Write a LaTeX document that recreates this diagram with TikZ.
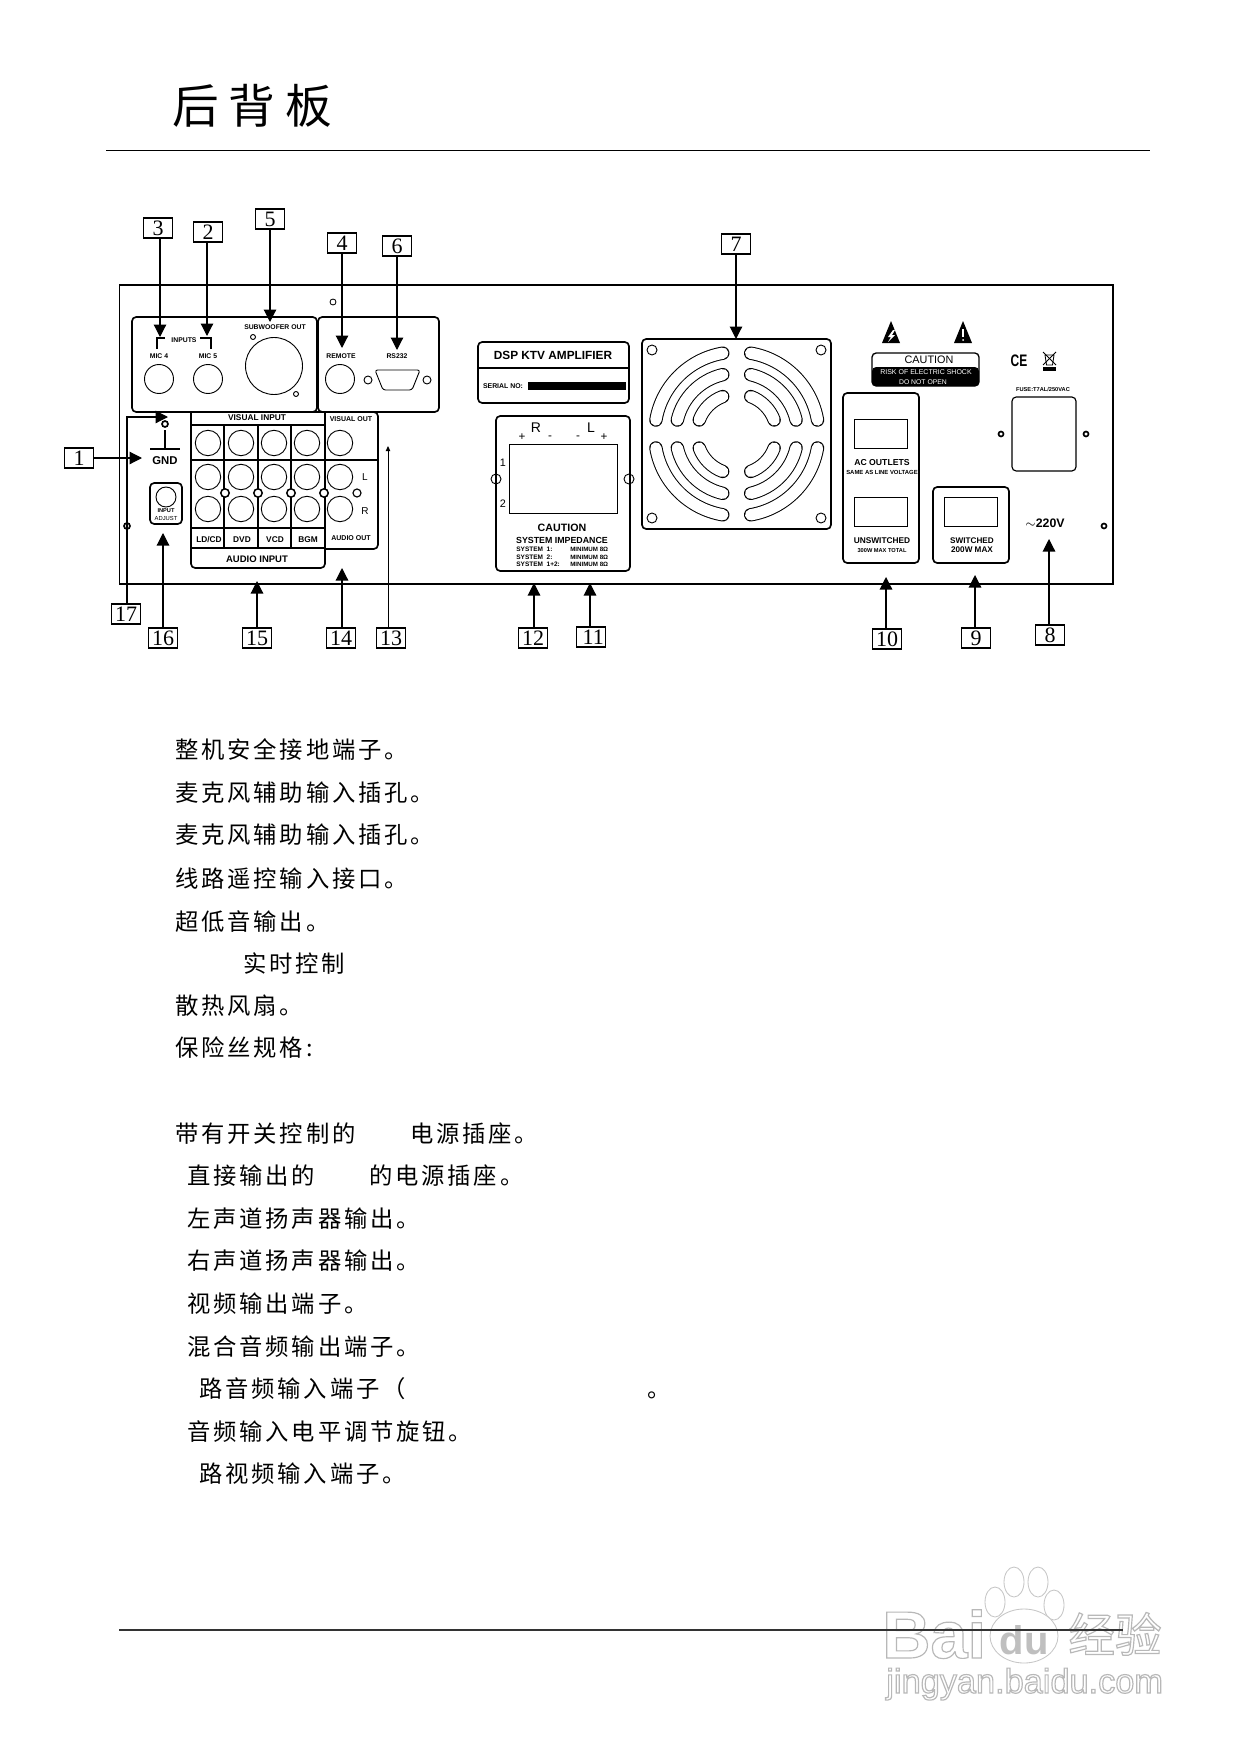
\documentclass[tikz,border=0pt]{standalone}
\usepackage{fontspec}
\usetikzlibrary{arrows.meta}
\setmainfont{Liberation Sans}
\newfontfamily\srf{Liberation Serif}
\newfontfamily\cjk{Noto Sans CJK SC}
\newfontfamily\cjkb[LetterSpace=12]{Noto Sans CJK SC}
\newcommand\fpx[1]{\fontsize{#1}{#1}\selectfont}
% bold centred text, regular centred text, bold west text
\newcommand\TB[4]{\node[inner sep=0pt,font={\fpx{#3}\bfseries}] (#1) at (#2) {#4};}
\newcommand\TR[4]{\node[inner sep=0pt,font={\fpx{#3}}] (#1) at (#2) {#4};}
\newcommand\TW[4]{\node[inner sep=0pt,anchor=west,font={\fpx{#3}\bfseries}] (#1) at (#2) {#4};}
\newcommand\BODY[3]{\node[inner sep=0pt,anchor=base west,font={\fpx{14}\cjkb}] (#1) at (#2) {#3};}
\newcommand\LAB[2]{\node[labbox] (n#1) at (#2) {#1};}
% outlined (stroked) text for the watermark
\newcommand\OUTL[1]{\special{pdf:code q 0.7 w 0.72 G 1 Tr}#1\special{pdf:code Q}}
\tikzset{
  labbox/.style={draw,line width=.7pt,minimum width=17.6pt,minimum height=12pt,inner sep=0pt,font={\fpx{13.2}\srf}},
  arr/.style={line width=.7pt,-{Triangle[width=7.5pt,length=7.5pt]}},
  pan/.style={draw,line width=1pt,rounded corners=2.5pt},
  thn/.style={draw,line width=.6pt},
  jack/.style={draw,line width=.55pt},
  screw/.style={draw,line width=1pt},
}
\begin{document}
\begin{tikzpicture}[x=0.6pt,y=-0.6pt]
\useasboundingbox (0,0) rectangle (1240,1752);
\fill[white] (0,0) rectangle (1240,1752);

% ---------- header
\node[inner sep=0pt,anchor=base west,font={\fpx{28}\cjk}] (title) at (172,124) {后\hspace{6pt}背\hspace{6pt}板};
\draw[line width=.75pt] (106,150.5) -- (1150,150.5);

% ---------- outer panel
\draw[line width=.8pt] (119.5,285) rectangle (1113,584);
\draw[line width=1.1pt] (119.5,285) -- (119.5,584);

% ---------- mic panel
\draw[pan] (132,317) rectangle (317,412);
\draw[pan] (318,317) rectangle (439,412);
\draw[jack] (159,379) circle[radius=14.5];
\draw[jack] (208,379) circle[radius=14.5];
\draw[jack] (274,366) circle[radius=28.5];
\draw[jack] (253,337) circle[radius=2.5];
\draw[jack] (296,394) circle[radius=2.5];
\draw[jack] (340,379) circle[radius=14.5];
\draw[jack,rounded corners=1.5pt] (375,370) -- (420,370) -- (412,390) -- (383,390) -- cycle;
\draw[jack] (368,380) circle[radius=4];
\draw[jack] (427,380) circle[radius=4];
\draw[screw,line width=.5pt] (333,302) circle[radius=3];
\draw[line width=.7pt] (157,349) -- (157,338) -- (165,338);
\draw[line width=.7pt] (200,338) -- (211,338) -- (211,349);
\TB{tinputs}{184,340}{4.1}{INPUTS}
\TB{tmic4}{159,356}{4.1}{MIC 4}
\TB{tmic5}{208,356}{4.1}{MIC 5}
\TB{tsub}{275,327}{4.1}{SUBWOOFER OUT}
\TB{trem}{341,356}{4.1}{REMOTE}
\TB{trs}{397,356}{4.1}{RS232}

% ---------- audio / visual panel
\draw[pan] (191,412) -- (191,568) -- (325,568) -- (325,412);
\draw[pan] (325,412) -- (378,412) -- (378,549) -- (325,549);
\draw[line width=.9pt] (191,412) -- (378,412);
\draw[line width=.9pt] (191,425) -- (325,425);
\draw[line width=.9pt] (191,460) -- (378,460);
\draw[line width=.9pt] (191,528) -- (325,528);
\draw[line width=.9pt] (191,548) -- (325,548);
\draw[line width=.9pt] (224,425) -- (224,548);
\draw[line width=.9pt] (258,425) -- (258,548);
\draw[line width=.9pt] (291,425) -- (291,548);
\draw[line width=.9pt] (325,412) -- (325,549);
\foreach \xx in {208,241,274,307,340}{
  \draw[jack] (\xx,443) circle[radius=12.7];
  \draw[jack] (\xx,477) circle[radius=12.7];
  \draw[jack] (\xx,509) circle[radius=12.7];
}
\foreach \xx in {225,258,291,324}{
  \draw[line width=.9pt,fill=white] (\xx,493) circle[radius=4.2];
}
\draw[line width=.7pt] (357,493) circle[radius=4];
\TB{tvi}{257,418}{5}{VISUAL INPUT}
\TB{tvo}{351,419}{4.2}{VISUAL OUT}
\TB{tao}{351,538}{4.2}{AUDIO OUT}
\TB{tld}{209,540}{5}{LD/CD}
\TB{tdvd}{242,540}{5}{DVD}
\TB{tvcd}{275,540}{5}{VCD}
\TB{tbgm}{308,540}{5}{BGM}
\TB{tai}{257,559}{5.7}{AUDIO INPUT}
\TR{tl}{365,477}{6}{L}
\TR{tr}{365,511}{6}{R}

% ---------- GND + input adjust
\draw[screw] (165,424) circle[radius=3];
\draw[line width=1.3pt] (165,430) -- (165,449);
\draw[line width=1.3pt] (150,449) -- (180,449);
\TB{tgnd}{165,461}{6.8}{GND}
\draw[pan] (150,483) rectangle (182,524);
\draw[jack] (166,497) circle[radius=10];
\TB{tinp}{166,511}{3.4}{INPUT}
\TR{tadj}{166,518}{3.5}{ADJUST}
\draw[screw,fill=white] (127,526) circle[radius=3];

% ---------- DSP label
\draw[pan] (478,342) rectangle (629,403);
\draw[line width=.9pt] (478,368) -- (629,368);
\TB{tdsp}{553,355}{7.1}{DSP KTV AMPLIFIER}
\TB{tser}{503,386}{4.15}{SERIAL NO:}
\fill (528,382) rectangle (626,390);

% ---------- speaker terminal
\draw[pan] (496,416) rectangle (630,571);
\draw[thn] (509,444) rectangle (617,513);
\draw[jack] (496,479) circle[radius=5];
\draw[jack] (629,479) circle[radius=5];
\TR{tspr}{536,428}{8.4}{R}
\TR{tspl}{591,428}{8.4}{L}
\TR{tp1}{522,437}{7}{+}
\TR{tm1}{550,438}{7}{-}
\TR{tm2}{578,438}{7}{-}
\TR{tp2}{604,437}{7}{+}
\TR{tone}{503,463}{6.5}{1}
\TR{ttwo}{503,504}{6.5}{2}
\TB{tcau}{562,528}{6.4}{CAUTION}
\TB{timp}{562,540}{5.3}{SYSTEM IMPEDANCE}
\TW{ts1}{516,549}{3.9}{SYSTEM\ \ 1:}
\TW{ts2}{516,557}{3.9}{SYSTEM\ \ 2:}
\TW{ts3}{516,564}{3.9}{SYSTEM\ \ 1+2:}
\TW{tm1a}{570,549}{3.7}{MINIMUM 8Ω}
\TW{tm2a}{570,557}{3.7}{MINIMUM 8Ω}
\TW{tm3a}{570,564}{3.7}{MINIMUM 8Ω}

% ---------- fan
\draw[pan] (642,339) rectangle (831,529);
\foreach \xx/\yy in {652/350,821/350,652/518,821/518}{
  \draw[jack] (\xx,\yy) circle[radius=5];
}
\foreach \sx/\sy in {1/1,-1/1,1/-1,-1/-1}{
  \begin{scope}[shift={(736.7,434)},xscale=\sx,yscale=\sy]
    \foreach \rr/\aa/\bb in {82/99.8/170.2,61/103.2/166.8,40/110.5/159.5}{
      \draw[line width=8pt,line cap=round] (-\aa:\rr) arc[start angle=-\aa,end angle=-\bb,radius=\rr];
      \draw[white,line width=6.8pt,line cap=round] (-\aa:\rr) arc[start angle=-\aa,end angle=-\bb,radius=\rr];
    }
  \end{scope}
}

% ---------- warnings
\fill (891,321) -- (900,343) -- (882,343) -- cycle;
\fill[white] (893,330) -- (888,337) -- (891,337) -- (888,342) -- (895,335) -- (892,335) -- (895,330) -- cycle;
\fill (963,321) -- (972,343) -- (954,343) -- cycle;
\draw[white,line width=.8pt] (963,329) -- (963,337);
\fill[white] (963,340) circle[radius=1];
\fill[rounded corners=2.5pt] (872,367) -- (872,386) -- (979,386) -- (979,367) -- cycle;
\draw[pan,line width=.8pt] (872,353) rectangle (979,386);
\TR{tcaut}{929,360}{6.5}{CAUTION}
\node[inner sep=0pt,text=white,font={\fpx{4.2}}] (trisk) at (926,372) {RISK OF ELECTRIC SHOCK};
\node[inner sep=0pt,text=white,font={\fpx{4.1}}] (tdno) at (923,382) {DO NOT OPEN};
\node[inner sep=0pt,font={\fpx{10}\bfseries}] (tce) at (1019,361) {\scalebox{.72}[1]{CE}};
% crossed bin
\draw[line width=.5pt] (1043,352) -- (1056,365);
\draw[line width=.5pt] (1056,352) -- (1043,365);
\draw[line width=.5pt] (1045,355) -- (1054,355) -- (1052.5,365) -- (1046.5,365) -- cycle;
\fill (1043,367) rectangle (1056,371);
\TB{tfuse}{1043,390}{3.4}{FUSE:T7AL/250VAC}
\draw[pan,line width=.7pt] (1012,397) rectangle (1076,471);
\draw[screw] (1001,434) circle[radius=2.5];
\draw[screw] (1086,434) circle[radius=2.5];
\draw[screw] (1104,526) circle[radius=2.5];
\TB{tv}{1045,523}{7.4}{\textnormal{$\sim$}220V}

% ---------- outlets
\draw[pan] (843,393) rectangle (919,563);
\draw[thn] (854,419) rectangle (907,448);
\draw[thn] (854,497) rectangle (907,526);
\TB{tac}{882,463}{5.2}{AC OUTLETS}
\TB{tsame}{882,472}{3.55}{SAME AS LINE VOLTAGE}
\TB{tuns}{882,541}{5}{UNSWITCHED}
\TB{t300}{882,551}{3.4}{300W MAX TOTAL}
\draw[pan] (933,487) rectangle (1009,563);
\draw[thn] (944,497) rectangle (997,526);
\TB{tsw}{972,541}{4.9}{SWITCHED}
\TB{t200}{972,550}{4.9}{200W MAX}

% ---------- callouts
\LAB{3}{158,228}
\LAB{2}{208,232}
\LAB{5}{270,219}
\LAB{4}{342,243}
\LAB{6}{397,246}
\LAB{7}{736,244}
\LAB{1}{79,458}
\LAB{17}{126,614}
\LAB{16}{163,638}
\LAB{15}{257,638}
\LAB{14}{341,638}
\LAB{13}{391,638}
\LAB{12}{533,638}
\node[labbox,text width=15.5pt,align=right] (n11) at (591,637) {11};
\LAB{10}{887,639}
\LAB{9}{976,638}
\LAB{8}{1050,635}
\coordinate (t3) at (160,337);
\coordinate (t2) at (207,336);
\coordinate (t5) at (270,322);
\coordinate (t4) at (342,348);
\coordinate (t6) at (397,350);
\coordinate (t7) at (736,339);
\coordinate (t1) at (142,458);
\coordinate (t17) at (168,417);
\coordinate (t16) at (163,533);
\coordinate (t15) at (257,581);
\coordinate (t14) at (342,568);
\coordinate (t13) at (388,446);
\coordinate (t12) at (534,583);
\coordinate (t11) at (590,583);
\coordinate (t10) at (886,577);
\coordinate (t9) at (975,575);
\coordinate (t8) at (1049,539);
\draw[arr] (t3 |- n3.south) -- (t3);
\draw[arr] (t2 |- n2.south) -- (t2);
\draw[arr] (t5 |- n5.south) -- (t5);
\draw[arr] (t4 |- n4.south) -- (t4);
\draw[arr] (t6 |- n6.south) -- (t6);
\draw[arr] (t7 |- n7.south) -- (t7);
\draw[arr] (n1.east) -- (t1);
\draw[arr] (n17.north -| 127,0) -- (127,417) -- (t17);
\draw[arr] (t16 |- n16.north) -- (t16);
\draw[arr] (t15 |- n15.north) -- (t15);
\draw[arr] (t14 |- n14.north) -- (t14);
\draw[line width=.6pt,-{Triangle[width=2.6pt,length=3pt]}] (t13 |- n13.north) -- (t13);
\draw[arr] (t12 |- n12.north) -- (t12);
\draw[arr] (t11 |- n11.north) -- (t11);
\draw[arr] (t10 |- n10.north) -- (t10);
\draw[arr] (t9 |- n9.north) -- (t9);
\draw[arr] (t8 |- n8.north) -- (t8);

% ---------- description
\BODY{d1}{175,758}{整机安全接地端子。}
\BODY{d2}{175,801}{麦克风辅助输入插孔。}
\BODY{d3}{175,843}{麦克风辅助输入插孔。}
\BODY{d4}{175,887}{线路遥控输入接口。}
\BODY{d5}{175,930}{超低音输出。}
\BODY{d6}{243,972}{实时控制}
\BODY{d7}{175,1014}{散热风扇。}
\BODY{d8}{175,1056}{保险丝规格:}
\BODY{d9a}{175,1142}{带有开关控制的}
\BODY{d9b}{410,1142}{电源插座。}
\BODY{d10a}{187,1184}{直接输出的}
\BODY{d10b}{369,1184}{的电源插座。}
\BODY{d11}{187,1227}{左声道扬声器输出。}
\BODY{d12}{187,1269}{右声道扬声器输出。}
\BODY{d13}{187,1312}{视频输出端子。}
\BODY{d14}{187,1355}{混合音频输出端子。}
\BODY{d15a}{199,1397}{路音频输入端子（}
\BODY{d15b}{647,1397}{。}
\BODY{d16}{187,1440}{音频输入电平调节旋钮。}
\BODY{d17}{199,1482}{路视频输入端子。}

% ---------- watermark
\begin{scope}[draw=gray!45,line width=.5pt,fill=white]
  \filldraw (1014,1582) ellipse[x radius=10,y radius=15];
  \filldraw (1038,1582) ellipse[x radius=10,y radius=15];
  \filldraw (995,1602) ellipse[x radius=10,y radius=15];
  \filldraw (1054,1605) ellipse[x radius=10,y radius=15];
  \filldraw (1024,1636) ellipse[x radius=34,y radius=27];
\end{scope}
\node[inner sep=0pt,anchor=base west,font={\fpx{40}\bfseries}] (wbai) at (882,1658) {\OUTL{Bai}};
\node[inner sep=0pt,font={\fpx{24}\bfseries},text=gray!50] (wdu) at (1024,1640) {du};
\node[inner sep=0pt,anchor=base west,font={\fpx{28}\cjk}] (wjy) at (1068,1652) {\OUTL{经验}};
\node[inner sep=0pt,anchor=base west,font={\fpx{20.6}}] (wurl) at (886,1693) {\OUTL{jingyan.baidu.com}};

% ---------- foot rule
\draw[line width=.7pt,black!80] (119,1630) -- (1123,1630);
\end{tikzpicture}
\end{document}
